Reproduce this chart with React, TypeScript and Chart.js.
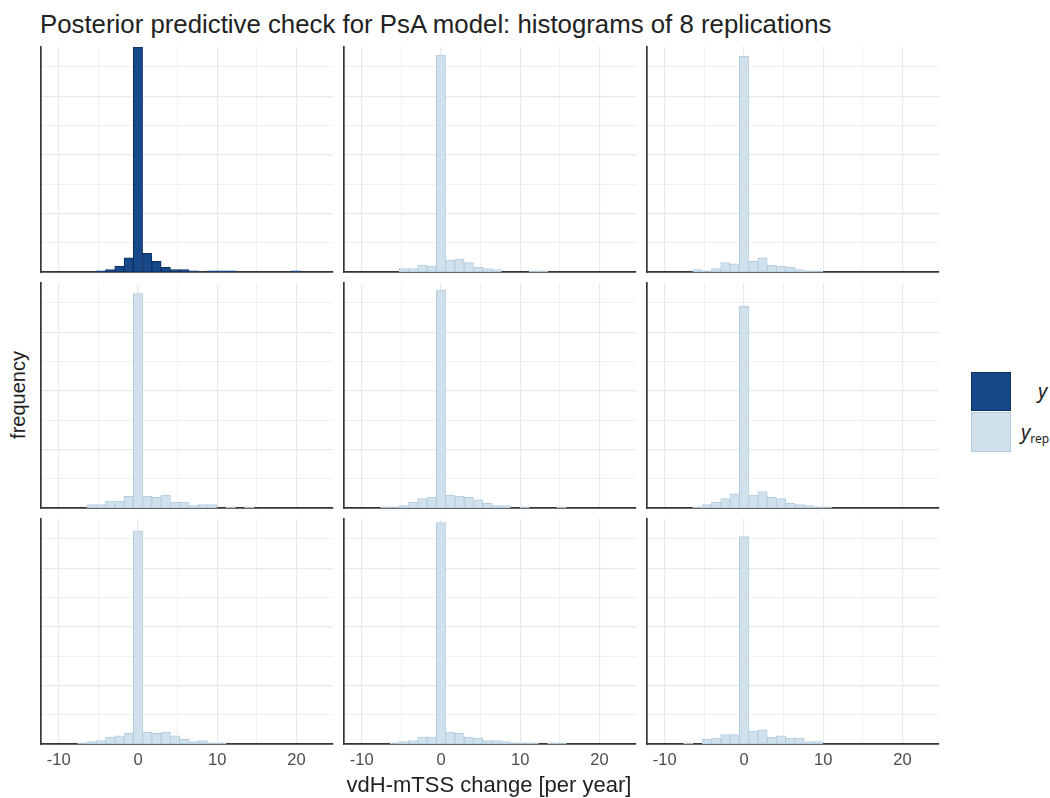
import React, { useEffect, useRef } from "react";
import { Chart, registerables } from "chart.js";

Chart.register(...registerables);

// ---- data ----
// histogram bin centres (binwidth ~1.17, bins centred on 0)
const BIN_CENTERS = [
  -7.02, -5.85, -4.68, -3.51, -2.34, -1.17, 0, 1.17, 2.34, 3.51, 4.68, 5.85,
  7.02, 8.19, 9.36, 10.53, 11.7, 12.87, 14.04, 15.21, 16.38, 17.55, 18.72, 19.89,
];
// observed y
const Y_OBS = [0, 0, 1, 2, 5, 12, 192, 16, 9, 4, 2, 2, 1, 0, 1, 1, 1, 0, 0, 0, 0, 0, 0, 1];
// replications
const YREP_1 = [0, 0, 3, 3, 6, 5, 185, 10, 11, 8, 4, 3, 2, 0, 0, 0, 1, 1, 0, 0, 0, 0, 0, 0];
const YREP_2 = [0, 2, 1, 3, 8, 7, 184, 9, 12, 6, 5, 4, 2, 1, 1, 0, 0, 0, 0, 0, 0, 0, 0, 0];
const YREP_3 = [0, 3, 3, 6, 6, 10, 183, 10, 9, 11, 5, 5, 2, 3, 3, 0, 1, 0, 1, 0, 0, 0, 0, 0];
const YREP_4 = [1, 1, 2, 5, 8, 9, 186, 11, 10, 9, 7, 4, 2, 2, 0, 1, 0, 0, 0, 1, 0, 0, 0, 0];
const YREP_5 = [0, 1, 3, 5, 8, 12, 172, 11, 14, 9, 8, 4, 3, 2, 1, 1, 0, 0, 0, 0, 0, 0, 0, 0];
const YREP_6 = [1, 2, 3, 6, 7, 9, 182, 10, 9, 10, 7, 4, 2, 3, 1, 1, 0, 0, 0, 0, 0, 0, 0, 0];
const YREP_7 = [0, 1, 2, 3, 6, 6, 189, 10, 9, 6, 5, 3, 3, 2, 1, 1, 1, 0, 1, 1, 0, 0, 0, 0];
const YREP_8 = [1, 0, 4, 5, 8, 8, 177, 11, 12, 6, 7, 5, 5, 2, 2, 0, 0, 0, 0, 0, 0, 0, 0, 0];

const PANELS = [Y_OBS, YREP_1, YREP_2, YREP_3, YREP_4, YREP_5, YREP_6, YREP_7, YREP_8];

const X_TICKS = [-10, -5, 0, 5, 10, 15, 20];
const Y_BREAKS = [25, 50, 75, 100, 125, 150, 175];
const X_MIN = -12.23;
const X_MAX = 24.6;
const Y_MAX = Math.max(...PANELS.map((p) => Math.max(...p)));

const TITLE = "Posterior predictive check for PsA model: histograms of 8 replications";
const X_TITLE = "vdH-mTSS change [per year]";
const Y_TITLE = "frequency";

// ---- styles ----
const FONT = "'Liberation Sans', Arial, sans-serif";
const DARK_FILL = "#17488a";
const DARK_LINE = "#0c2f5f";
const LIGHT_FILL = "#d1e1ec";
const LIGHT_LINE = "#b3cde0";
const GRID = "#e7e9f0";
const AXIS = "#363636";

const PLOT_LEFTS = [41, 344, 647];
const PLOT_TOPS = [47, 283, 519];
const PLOT_W = 292;
const PLOT_H = 225;
const PAD = 4;
const X_AXIS_H = 30;

function Panel({ counts, dark, bottom, left, top }: { counts: number[]; dark: boolean; bottom: boolean; left: number; top: number }) {
  const ref = useRef<HTMLCanvasElement | null>(null);
  const w = PLOT_W + 2 * PAD;
  const h = PLOT_H + PAD + (bottom ? X_AXIS_H : PAD);

  useEffect(() => {
    if (!ref.current) return;
    const chart = new Chart(ref.current, {
      type: "bar",
      data: {
        datasets: [
          {
            data: BIN_CENTERS.map((x, i) => ({ x, y: counts[i] })),
            backgroundColor: dark ? DARK_FILL : LIGHT_FILL,
            borderColor: dark ? DARK_LINE : LIGHT_LINE,
            borderWidth: 1,
            borderSkipped: false,
            barPercentage: 1,
            categoryPercentage: 1,
          } as any,
        ],
      },
      options: {
        responsive: false,
        animation: false,
        devicePixelRatio: 1,
        layout: { padding: { left: PAD, right: PAD, top: PAD, bottom: bottom ? 0 : PAD } },
        plugins: { legend: { display: false }, tooltip: { enabled: false }, title: { display: false } },
        scales: {
          x: {
            type: "linear",
            min: X_MIN,
            max: X_MAX,
            bounds: "data",
            offset: false,
            afterBuildTicks: (s: any) => {
              s.ticks = X_TICKS.map((v) => ({ value: v }));
            },
            afterFit: (s: any) => {
              s.height = bottom ? X_AXIS_H : 0;
            },
            ticks: {
              display: bottom,
              padding: 7,
              color: "#4d4d4d",
              font: { size: 16.5, family: FONT },
              maxRotation: 0,
              autoSkip: false,
              callback: (v: any) => (Number(v) % 10 === 0 ? String(v) : ""),
            },
            grid: {
              offset: false,
              drawTicks: false,
              color: GRID,
              lineWidth: (ctx: any) => (ctx.tick && ctx.tick.value % 10 === 0 ? 1.2 : 0.7),
            },
            border: { display: true, color: AXIS, width: 1.7 },
          },
          y: {
            type: "linear",
            min: 0,
            max: Y_MAX,
            bounds: "data",
            afterBuildTicks: (s: any) => {
              s.ticks = Y_BREAKS.map((v) => ({ value: v }));
            },
            afterFit: (s: any) => {
              s.width = 0;
            },
            ticks: { display: false },
            grid: {
              drawTicks: false,
              color: GRID,
              lineWidth: (ctx: any) => (ctx.tick && ctx.tick.value % 50 === 0 ? 1.2 : 0.7),
            },
            border: { display: true, color: AXIS, width: 1.7 },
          },
        },
      } as any,
    });
    return () => chart.destroy();
  }, []);

  return (
    <canvas
      ref={ref}
      width={w}
      height={h}
      style={{ position: "absolute", left: left - PAD, top: top - PAD, width: w, height: h }}
    />
  );
}

export default function App() {
  return (
    <div style={{ position: "absolute", left: 0, top: 0, width: 1050, height: 798, background: "#fff", overflow: "hidden", fontFamily: FONT }}>
      <div style={{ position: "absolute", left: 40, top: 9, fontSize: 25.8, color: "#222", whiteSpace: "nowrap", lineHeight: "30px" }}>
        {TITLE}
      </div>
      {PANELS.map((counts, i) => (
        <Panel
          key={i}
          counts={counts}
          dark={i === 0}
          bottom={Math.floor(i / 3) === 2}
          left={PLOT_LEFTS[i % 3]}
          top={PLOT_TOPS[Math.floor(i / 3)]}
        />
      ))}
      <div
        style={{
          position: "absolute",
          left: 18 - 100,
          top: 395 - 12,
          width: 200,
          height: 24,
          lineHeight: "24px",
          textAlign: "center",
          fontSize: 20,
          color: "#222",
          transform: "rotate(-90deg)",
        }}
      >
        {Y_TITLE}
      </div>
      <div style={{ position: "absolute", left: 40, width: 898, top: 772, textAlign: "center", fontSize: 22, lineHeight: "26px", color: "#222" }}>
        {X_TITLE}
      </div>
      {/* legend */}
      <div style={{ position: "absolute", left: 971, top: 372, width: 40, height: 39, background: DARK_FILL, border: `1px solid ${DARK_LINE}`, boxSizing: "border-box" }} />
      <div style={{ position: "absolute", left: 971, top: 412, width: 40, height: 40, background: LIGHT_FILL, border: `1px solid ${LIGHT_LINE}`, boxSizing: "border-box" }} />
      <div style={{ position: "absolute", left: 1038, top: 379, fontSize: 20, fontStyle: "italic", color: "#222", lineHeight: "24px", fontFamily: "'Noto Sans', sans-serif" }}>y</div>
      <div style={{ position: "absolute", left: 1021, top: 420, fontSize: 20, fontStyle: "italic", color: "#222", lineHeight: "24px", whiteSpace: "nowrap", fontFamily: "'Noto Sans', sans-serif" }}>
        y<span style={{ fontSize: 12, fontStyle: "normal", verticalAlign: "-4px" }}>rep</span>
      </div>
    </div>
  );
}
